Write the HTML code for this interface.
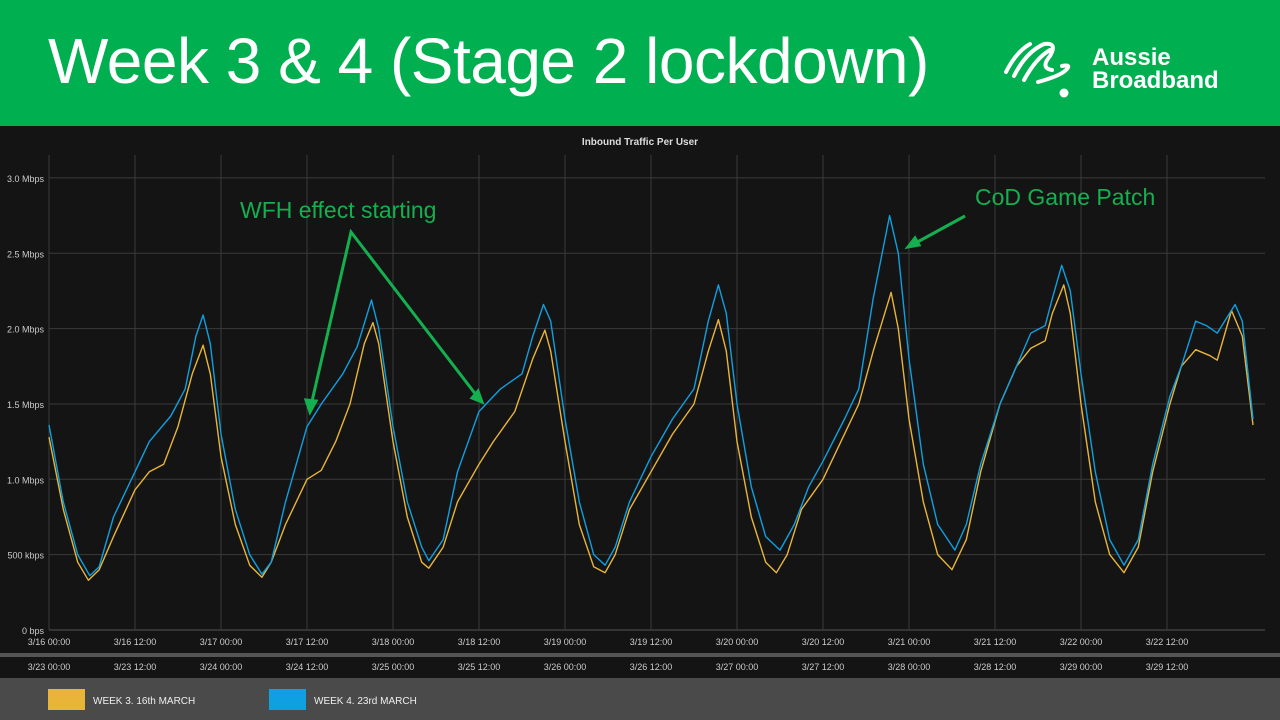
<!DOCTYPE html>
<html><head><meta charset="utf-8"><style>
body{margin:0;width:1280px;height:720px;overflow:hidden;background:#141414;font-family:"Liberation Sans",sans-serif}
#hdr{position:absolute;left:0;top:0;width:1280px;height:126px;background:#00b050}
#title{position:absolute;left:48px;top:24px;font-size:64px;color:#fff;letter-spacing:-0.5px}
#logo{position:absolute;left:1092px;top:46px;color:#fff;font-weight:bold;font-size:24px;line-height:23px}
svg{position:absolute;left:0;top:0}
</style></head><body>
<div id="hdr"></div>
<div id="title">Week 3 &amp; 4 (Stage 2 lockdown)</div>
<div id="logo">Aussie<br>Broadband</div>
<svg width="1280" height="720" id="chart">
<g fill="none" stroke="#fff" stroke-width="4" stroke-linecap="round">
<path d="M1006 72 Q1016 52 1030 44"/><path d="M1014 76 Q1026 52 1044 44 Q1058 42 1050 56 Q1040 68 1052 70"/>
<path d="M1024 80 Q1036 58 1050 50"/><path d="M1038 82 Q1060 76 1066 70 Q1072 64 1062 66"/>
<circle cx="1064" cy="93" r="2.5" fill="#fff"/>
</g>
<rect x="0" y="653" width="1280" height="4" fill="#555"/>
<rect x="0" y="678" width="1280" height="42" fill="#4a4a4a"/>
<text x="640" y="145" fill="#ddd" font-size="10" font-weight="bold" text-anchor="middle">Inbound Traffic Per User</text>
<g id="grid"></g><g id="series"></g>
<g>
<rect x="48" y="689" width="37" height="21" fill="#e8b538"/>
<text x="93" y="704" fill="#eee" font-size="10">WEEK 3. 16th MARCH</text>
<rect x="269" y="689" width="37" height="21" fill="#0ea0e0"/>
<text x="314" y="704" fill="#eee" font-size="10">WEEK 4. 23rd MARCH</text>
</g>
<g stroke="#14b050" stroke-width="3" fill="none">
<polyline points="310,410 351,232 480,400"/>
<polygon points="310,412 306,400 316,401" fill="#14b050"/>
<polygon points="482,402 472,398 478,391" fill="#14b050"/>
<line x1="965" y1="216" x2="912" y2="245"/>
<polygon points="908,247 915,238 919,245" fill="#14b050"/>
</g>
<text x="240" y="218" fill="#14b050" font-size="23">WFH effect starting</text>
<text x="975" y="205" fill="#14b050" font-size="23">CoD Game Patch</text>
</svg>
<script>
const yTicks=[0,0.5,1.0,1.5,2.0,2.5,3.0];
const yTickLabels=["0 bps","500 kbps","1.0 Mbps","1.5 Mbps","2.0 Mbps","2.5 Mbps","3.0 Mbps"];
const xTickHours=[0,12,24,36,48,60,72,84,96,108,120,132,144,156];
const xLabelsWeek3=["3/16 00:00","3/16 12:00","3/17 00:00","3/17 12:00","3/18 00:00","3/18 12:00","3/19 00:00","3/19 12:00","3/20 00:00","3/20 12:00","3/21 00:00","3/21 12:00","3/22 00:00","3/22 12:00"];
const xLabelsWeek4=["3/23 00:00","3/23 12:00","3/24 00:00","3/24 12:00","3/25 00:00","3/25 12:00","3/26 00:00","3/26 12:00","3/27 00:00","3/27 12:00","3/28 00:00","3/28 12:00","3/29 00:00","3/29 12:00"];
const week4Hours=[0,2,4,5.7,7,9,12,14,17,19,20.5,21.5,22.5,24,26,28,29.7,31,33,36,38,41,43,45,46,48,50,52,53,55,57,60,63,66,67.5,69,70,72,74,76,77.6,79,81,84,87,90,92,93.4,94.5,96,98,100,102,104,106,108,111,113,115,117.3,118.5,120,122,124,126.4,128,130,132.7,135,137,139,140,141.3,142.5,144,146,148,150,152,154,156.4,158,160,161.5,163,165.5,166.5,168];
const week4Values=[1.36,0.85,0.5,0.36,0.42,0.75,1.05,1.25,1.42,1.6,1.95,2.09,1.9,1.3,0.8,0.5,0.37,0.45,0.85,1.35,1.5,1.7,1.88,2.19,2.0,1.35,0.85,0.55,0.46,0.6,1.05,1.45,1.6,1.7,1.95,2.16,2.05,1.4,0.85,0.5,0.43,0.55,0.85,1.15,1.4,1.6,2.05,2.29,2.1,1.5,0.95,0.62,0.53,0.7,0.95,1.12,1.4,1.6,2.2,2.75,2.5,1.8,1.1,0.7,0.53,0.7,1.1,1.5,1.75,1.97,2.02,2.2,2.42,2.25,1.7,1.05,0.6,0.43,0.6,1.1,1.55,1.75,2.05,2.02,1.97,2.16,2.05,1.4];
const week3Hours=[0,2,4,5.5,7,9,12,14,16,18,20,21.5,22.5,24,26,28,29.7,31,33,36,38,40,42,44,45.2,46,48,50,52,53,55,57,60,62,65,67.5,69.2,70,72,74,76,77.6,79,81,84,87,90,92,93.4,94.5,96,98,100,101.5,103,105,108,111,113,115,117.5,118.5,120,122,124,126,128,130,132.7,135,137,139,140,141.6,142.5,144,146,148,150,152,154,156.4,158,160,162,163,165,166.5,168];
const week3Values=[1.28,0.8,0.45,0.33,0.4,0.62,0.93,1.05,1.1,1.35,1.7,1.89,1.7,1.15,0.7,0.43,0.35,0.45,0.7,1.0,1.06,1.25,1.5,1.9,2.04,1.9,1.25,0.75,0.45,0.41,0.55,0.85,1.1,1.25,1.45,1.8,1.99,1.85,1.25,0.7,0.42,0.38,0.5,0.8,1.05,1.3,1.5,1.85,2.06,1.85,1.25,0.75,0.45,0.38,0.5,0.8,1.0,1.3,1.5,1.85,2.24,2.0,1.4,0.85,0.5,0.4,0.6,1.05,1.5,1.75,1.87,1.92,2.1,2.29,2.1,1.5,0.85,0.5,0.38,0.55,1.05,1.5,1.75,1.86,1.82,1.79,2.12,1.95,1.36];
const NS="http://www.w3.org/2000/svg";
const X=h=>49+h*(1204/168);
const Y=v=>630-v*150.7;
const grid=document.getElementById('grid'),ser=document.getElementById('series');
function mk(tag,attrs,parent,txt){const e=document.createElementNS(NS,tag);for(const k in attrs)e.setAttribute(k,attrs[k]);if(txt!==undefined)e.textContent=txt;parent.appendChild(e);return e;}
yTicks.forEach((v,i)=>{
 const l=mk('line',{x1:49,x2:1265,y1:Y(v),y2:Y(v),stroke:i==0?'#555':'#3a3a3a','stroke-width':1},grid);
 
 
 const t=mk('text',{x:44,y:Y(v)+4,fill:'#ccc','font-size':9,'text-anchor':'end'},grid,yTickLabels[i]);
 
 
});
xTickHours.forEach((h,i)=>{
 const l=mk('line',{x1:X(h),x2:X(h),y1:155,y2:630,stroke:'#3a3a3a','stroke-width':1},grid);
 
 
 const t=mk('text',{x:X(h),y:645,fill:'#ccc','font-size':9,'text-anchor':'middle'},grid,xLabelsWeek3[i]);
 
 
 const t2=mk('text',{x:X(h),y:670,fill:'#ccc','font-size':9,'text-anchor':'middle'},grid,xLabelsWeek4[i]);
 
 
});
function line(hs,vs,color,name){
 const p=mk('polyline',{points:hs.map((h,i)=>X(h).toFixed(1)+','+Y(vs[i]).toFixed(1)).join(' '),fill:'none',stroke:color,'stroke-width':1.4,'stroke-linejoin':'round'},ser);
 
 
}
line(week3Hours,week3Values,'#e8b538','week3-line');
line(week4Hours,week4Values,'#0ea0e0','week4-line');
</script>
</body></html>
